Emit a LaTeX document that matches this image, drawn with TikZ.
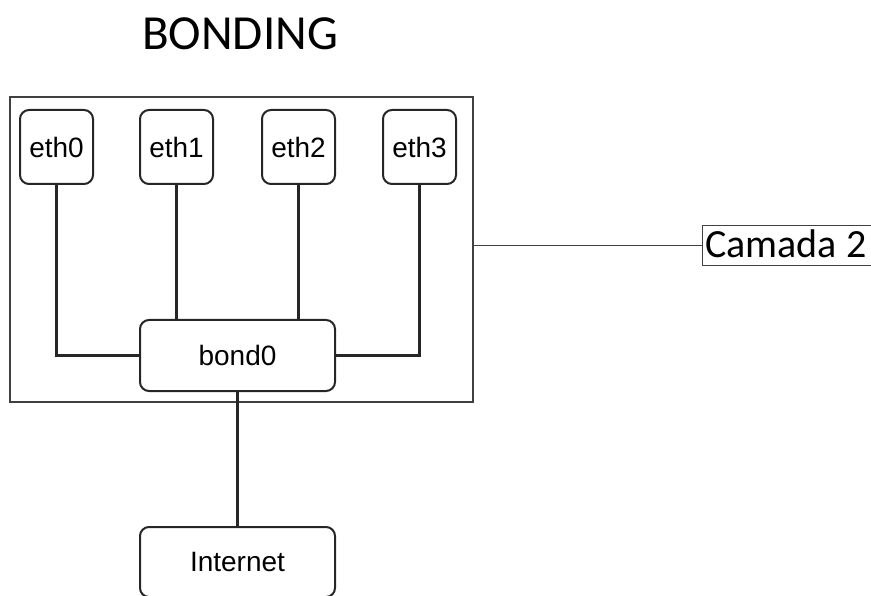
\documentclass[tikz,border=0pt]{standalone}
\usepackage{fontspec}
\setmainfont{Liberation Sans}
\newfontfamily\calib{Carlito}
\begin{document}
\begin{tikzpicture}[x=1pt,y=-1pt,
  box/.style={draw=black!85, line width=2pt, rounded corners=9pt, inner sep=0pt,
    font=\fontsize{28}{30}\selectfont},
  ethbox/.style={box, minimum width=73pt, minimum height=74pt},
  widebox/.style={box, minimum width=195pt, minimum height=71pt},
  wire/.style={draw=black!85, line width=2.2pt},
  thin/.style={draw=black!75, line width=1.2pt}]
\useasboundingbox (0,0) rectangle (871,596);
\node[font=\calib\fontsize{49}{52}\selectfont, anchor=base] (title) at (240,50) {BONDING};
\node[thin, minimum width=463pt, minimum height=305pt, inner sep=0pt] (frame) at (241.5,249.5) {};
\node[ethbox] (eth0) at (56.5,147) {eth0};
\node[ethbox] (eth1) at (176.5,147) {eth1};
\node[ethbox] (eth2) at (298.5,147) {eth2};
\node[ethbox] (eth3) at (419.5,147) {eth3};
\node[widebox] (bond) at (237.5,355.5) {bond0};
\node[widebox, minimum height=70pt] (inet) at (237.5,562) {Internet};
\node[anchor=west, inner xsep=3pt, inner ysep=0pt, minimum height=39pt,
  font=\calib\fontsize{40}{42}\selectfont, text height=27pt, text depth=3pt] (camada) at (702,245.5) {Camada 2};
\draw[thin, line width=1pt] (camada.north west) rectangle ([xshift=20pt]camada.south east);
\draw[wire] (eth0.south) |- (bond.west);
\draw[wire] (eth1.south) -- (eth1.south |- bond.north);
\draw[wire] (eth2.south) -- (eth2.south |- bond.north);
\draw[wire] (eth3.south) |- (bond.east);
\draw[wire] (bond.south) -- (inet.north);
\draw[thin, line width=1.6pt] (camada.west -| frame.east) -- (camada.west);
\end{tikzpicture}
\end{document}
